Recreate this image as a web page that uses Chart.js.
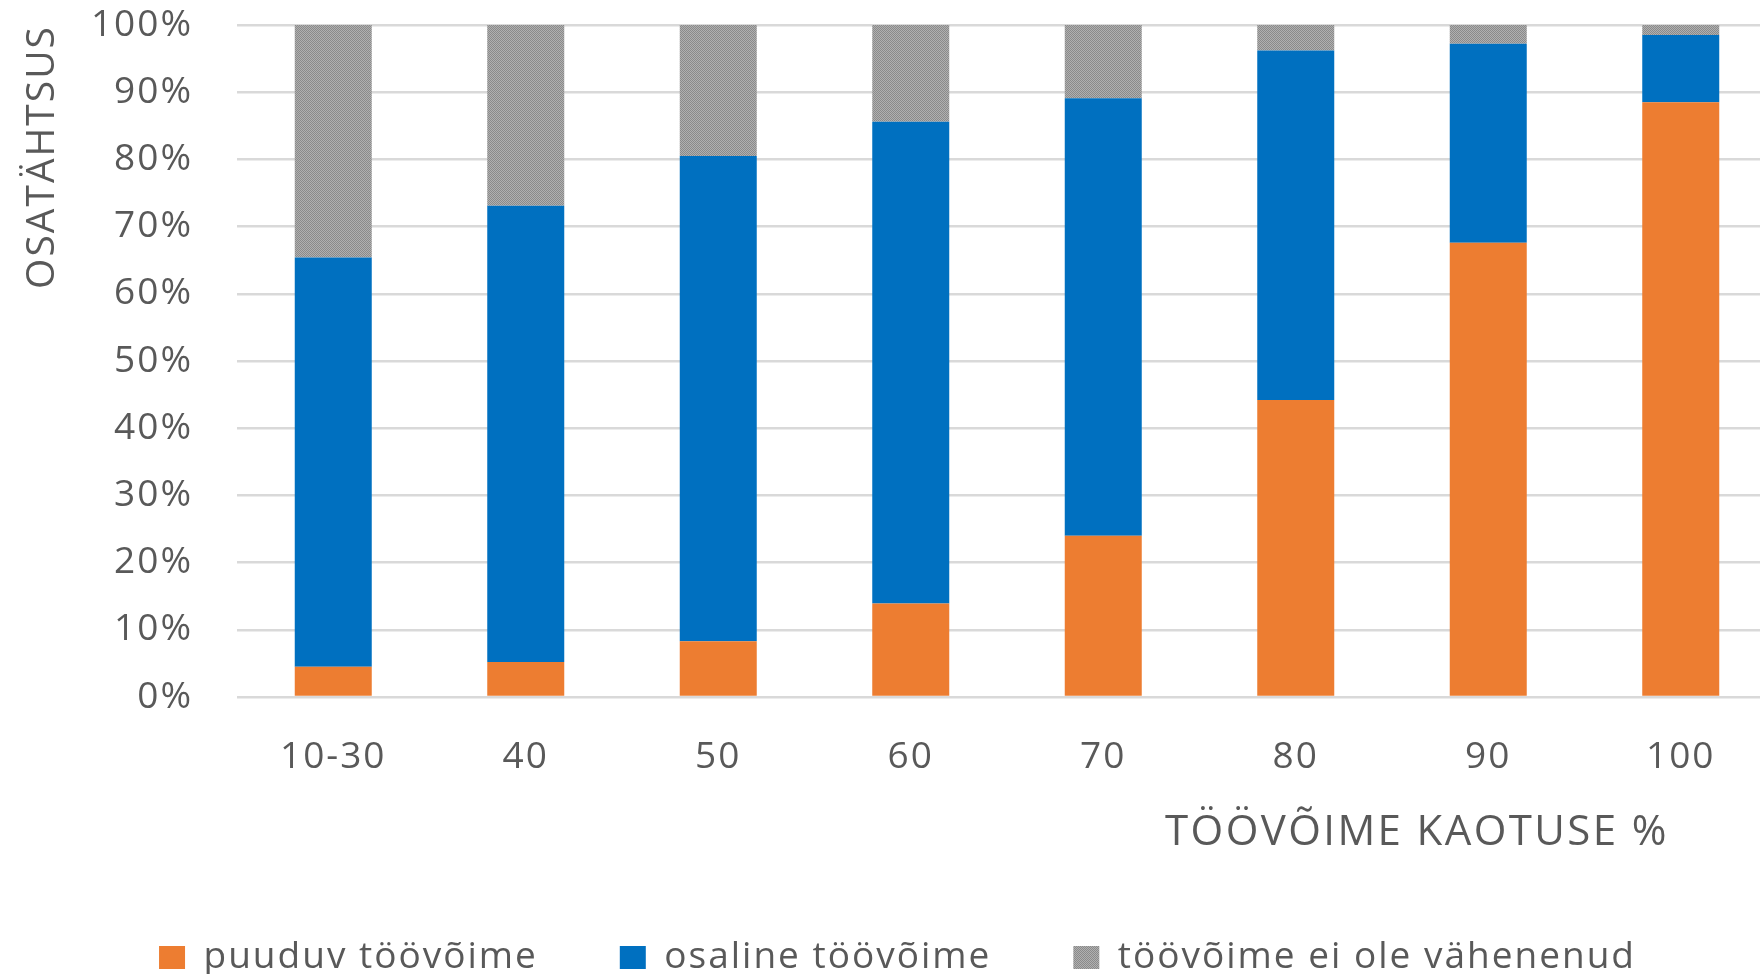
<!DOCTYPE html>
<html>
<head>
<meta charset="utf-8">
<script src="https://cdn.jsdelivr.net/npm/chart.js@4/dist/chart.umd.min.js"></script>
<style>
  html, body { margin: 0; padding: 0; background: #fff; overflow: hidden; }
  #frame { width: 1760px; height: 974px; overflow: hidden; }
  #box { position: relative; width: 1786px; height: 986px; }
</style>
</head>
<body>
<div id="frame"><div id="box"><canvas id="chart"></canvas></div></div>
<script>
// categories and shares (%)
const categories = ['10-30', '40', '50', '60', '70', '80', '90', '100'];
const puuduv = [4.5, 5.2, 8.3, 13.9, 24.0, 44.2, 67.6, 88.5];
const osaline = [60.9, 67.9, 72.2, 71.7, 65.1, 52.0, 29.6, 10.0];
const eiVahenenud = [34.6, 26.9, 19.5, 14.4, 10.9, 3.8, 2.8, 1.5];
const seriesNames = ['puuduv töövõime', 'osaline töövõime', 'töövõime ei ole vähenenud'];
const yTicks = [0, 10, 20, 30, 40, 50, 60, 70, 80, 90, 100];
const yTitle = 'OSATÄHTSUS';
const xTitle = 'TÖÖVÕIME KAOTUSE %';

const textColor = '#595959';
const font = '"Open Sans", "Liberation Sans", sans-serif';

// dotted grey fill like the excel pattern
function greyDots() {
  const p = document.createElement('canvas');
  p.width = 2; p.height = 2;
  const g = p.getContext('2d');
  g.fillStyle = '#b0b0b0';
  g.fillRect(0, 0, 2, 2);
  g.fillStyle = '#8a8a8a';
  g.fillRect(0, 0, 1, 1);
  g.fillRect(1, 1, 1, 1);
  return g.createPattern(p, 'repeat');
}

// wide letter spacing of the original text
const spacing = {
  id: 'spacing',
  beforeUpdate(c) { c.ctx.letterSpacing = '2px'; },
  beforeDraw(c) { c.ctx.letterSpacing = '2px'; }
};

// x axis title sits right of centre in the original
const xTitlePlugin = {
  id: 'xTitle',
  afterDraw(c) {
    const ctx = c.ctx;
    ctx.save();
    ctx.font = '42px ' + font;
    ctx.letterSpacing = '2.4px';
    ctx.fillStyle = textColor;
    ctx.textAlign = 'center';
    ctx.textBaseline = 'alphabetic';
    ctx.fillText(xTitle, c.chartArea.right - 360, c.chartArea.bottom + 148);
    ctx.restore();
  }
};

new Chart(document.getElementById('chart'), {
  type: 'bar',
  data: {
    labels: categories,
    datasets: [
      { label: seriesNames[0], data: puuduv, backgroundColor: '#ED7D31' },
      { label: seriesNames[1], data: osaline, backgroundColor: '#0070C0' },
      { label: seriesNames[2], data: eiVahenenud, backgroundColor: greyDots() }
    ]
  },
  options: {
    responsive: true,
    maintainAspectRatio: false,
    animation: false,
    layout: { padding: { top: 25, left: 18, right: 9, bottom: 0 } },
    datasets: { bar: { categoryPercentage: 1, barPercentage: 0.4, borderWidth: 0 } },
    plugins: {
      tooltip: { enabled: false },
      legend: {
        position: 'bottom',
        labels: {
          color: textColor,
          font: { family: font, size: 37 },
          boxWidth: 26,
          boxHeight: 23,
          padding: 82
        }
      }
    },
    scales: {
      x: {
        stacked: true,
        grid: { display: false },
        border: { display: false },
        ticks: { color: textColor, font: { family: font, size: 37 }, padding: 30, maxRotation: 0 },
        afterFit(s) { s.height = 160; s.paddingLeft = 0; s.paddingRight = 0; }
      },
      y: {
        stacked: true,
        min: 0,
        max: 100,
        afterBuildTicks(s) { s.ticks = yTicks.map(v => ({ value: v })); },
        grid: { color: '#d9d9d9', lineWidth: 2.5, drawTicks: false },
        border: { display: false },
        ticks: { color: textColor, font: { family: font, size: 37 }, padding: 44, callback: v => v + '%' },
        title: {
          display: true,
          text: yTitle,
          align: 'end',
          color: textColor,
          font: { family: font, size: 39 },
          padding: { top: 1, bottom: 0 }
        },
        afterFit(s) { s.width = 219; s.paddingTop = 0; s.paddingBottom = 0; }
      }
    }
  },
  plugins: [spacing, xTitlePlugin]
});
</script>
</body>
</html>
